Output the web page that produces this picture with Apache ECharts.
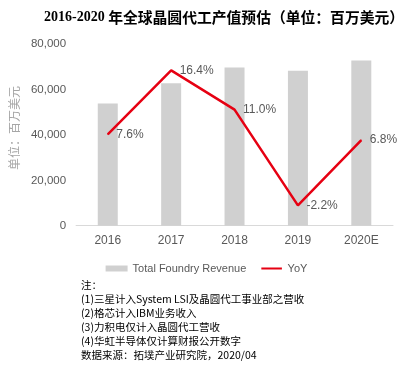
<!DOCTYPE html>
<html><head><meta charset="utf-8">
<script src="https://cdn.jsdelivr.net/npm/echarts@6/dist/echarts.min.js"></script>
<style>html,body{margin:0;padding:0;background:#fff}#c{width:413px;height:370px}</style>
</head><body><div id="c"></div>
<script>
const categories = ['2016', '2017', '2018', '2019', '2020E'];
const revenue = [53900, 62800, 69800, 68300, 72900];
const yoy = [7.6, 16.4, 11.0, -2.2, 6.8];
const revTicks = { min: 0, max: 80000, interval: 20000 };
const yoyRange = { min: -5, max: 20 };
const notes = [
  '注：',
  '(1)三星计入System LSI及晶圆代工事业部之营收',
  '(2)格芯计入IBM业务收入',
  '(3)力积电仅计入晶圆代工营收',
  '(4)华虹半导体仅计算财报公开数字',
  '数据来源：拓墣产业研究院，2020/04'
];

const chart = echarts.init(document.getElementById('c'), null, { renderer: 'canvas' });
const gray = '#595959';
chart.setOption({
  animation: false,
  title: {
    text: '{a|2016-2020 }{b|年全球晶圆代工产值预估（单位：百万美元）}',
    left: 39, top: 5,
    textStyle: {
      rich: {
        a: { fontFamily: 'Liberation Serif', fontWeight: 'bold', fontSize: 14, color: '#000' },
        b: { fontFamily: 'Noto Sans CJK SC', fontWeight: 'bold', fontSize: 14.8, color: '#000' }
      }
    }
  },
  grid: { left: 70.5, right: 20, top: 44.3, bottom: 144.3 },
  legend: {
    top: 258, left: 'center',
    itemWidth: 22, itemHeight: 6, itemGap: 15,
    textStyle: { fontFamily: 'Liberation Sans', fontSize: 11, color: gray },
    data: [
      { name: 'Total Foundry Revenue', icon: 'rect' },
      { name: 'YoY', icon: 'path://M0,0H24V0.01H0Z M0,2.4H24V4.6H0Z M0,6.99H24V7H0Z' }
    ]
  },
  xAxis: {
    type: 'category', data: categories,
    axisLine: { lineStyle: { color: '#d9d9d9' } },
    axisTick: { show: false },
    axisLabel: { color: gray, fontFamily: 'Liberation Sans', fontSize: 12, margin: 9 }
  },
  yAxis: [
    {
      type: 'value', min: revTicks.min, max: revTicks.max, interval: revTicks.interval,
      splitLine: { show: false }, axisLine: { show: false }, axisTick: { show: false },
      axisLabel: { color: gray, fontFamily: 'Liberation Sans', fontSize: 11.5, margin: 10,
        formatter: v => v.toLocaleString('en-US') },
      name: '单位：百万美元', nameLocation: 'middle', nameRotate: 90, nameGap: 52,
      nameTextStyle: { color: '#a6a6a6', fontFamily: 'Noto Sans CJK SC', fontSize: 12, padding: [0, 0, 0, 14] }
    },
    {
      type: 'value', min: yoyRange.min, max: yoyRange.max, show: false,
      splitLine: { show: false }
    }
  ],
  series: [
    {
      name: 'Total Foundry Revenue', type: 'bar', data: revenue, barWidth: 20,
      itemStyle: { color: '#d0d0d0' }
    },
    {
      name: 'YoY', type: 'line', yAxisIndex: 1, data: yoy,
      symbol: 'circle', symbolSize: 1, showSymbol: true,
      itemStyle: { color: '#e60012' },
      lineStyle: { color: '#e60012', width: 2.5 },
      label: { show: true, position: 'right', distance: 8, color: gray,
        fontFamily: 'Liberation Sans', fontSize: 12,
        formatter: p => p.value.toFixed(1) + '%' }
    }
  ],
  graphic: [{
    type: 'text', left: 81, top: 278,
    style: { text: notes.join('\n'), fontFamily: 'Noto Sans CJK SC', fontSize: 10.5, lineHeight: 14, fill: '#000' }
  }]
});
</script></body></html>
